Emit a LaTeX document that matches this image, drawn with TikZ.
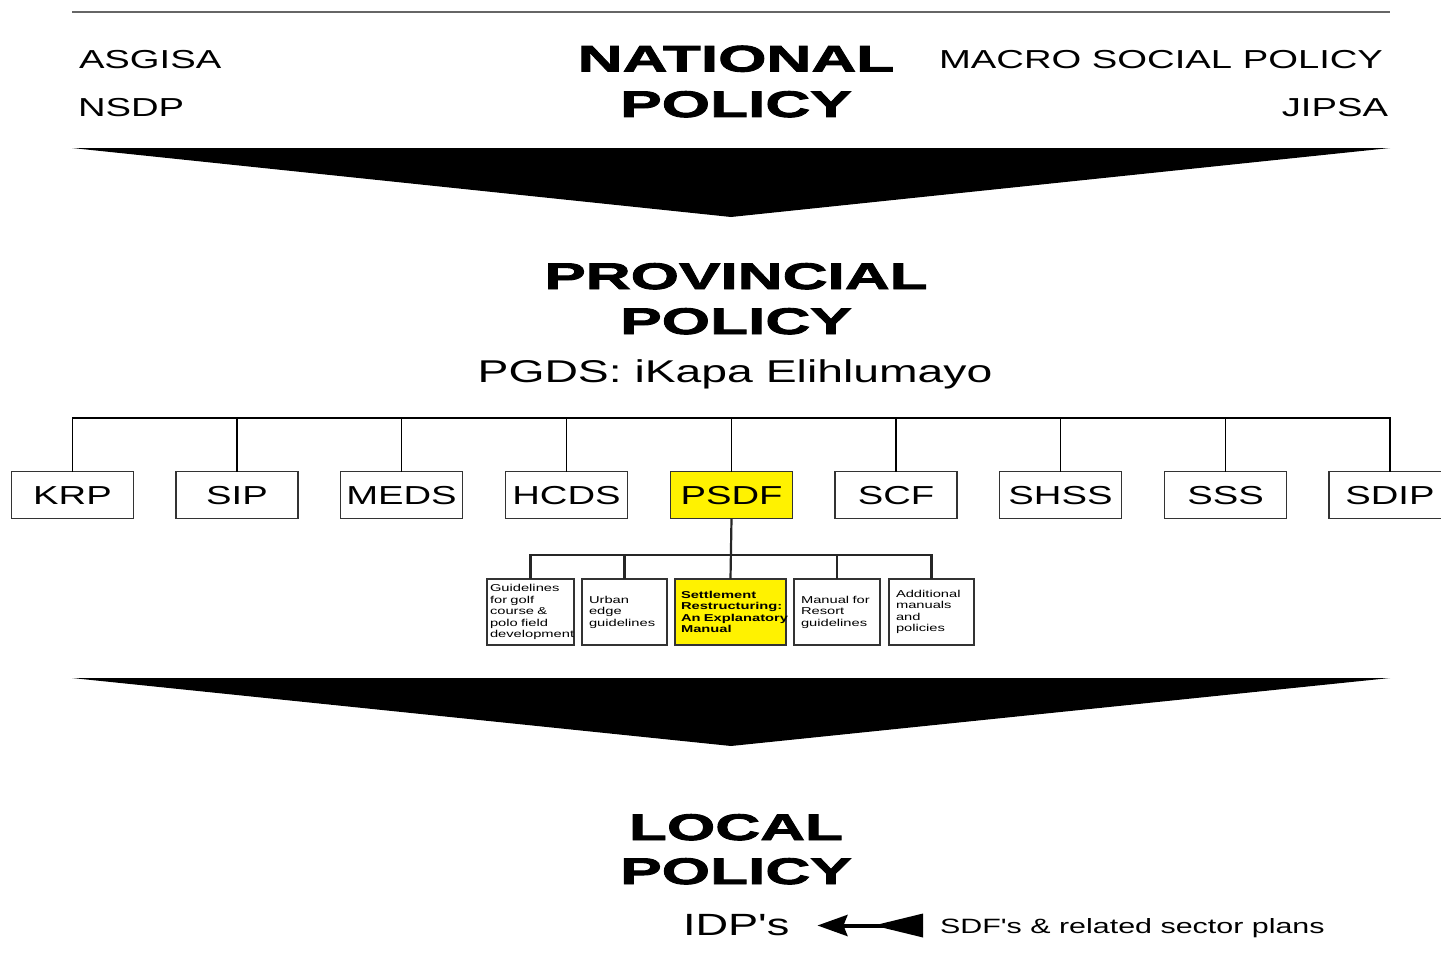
\documentclass[tikz,border=0pt]{standalone}
\usepackage{fontspec}
\setmainfont{Liberation Sans}
\newfontfamily\rf[FakeStretch=1.47]{Liberation Sans}
\newfontfamily\hf[FakeStretch=1.68,FakeBold=2.5]{Liberation Sans}
\usetikzlibrary{arrows.meta,calc}
\begin{document}
\begin{tikzpicture}[x=1pt,y=-1pt,
  every node/.style={inner sep=0pt, outer sep=0pt},
  side/.style={font=\rf\fontsize{26}{26}\selectfont},
  head/.style={font=\hf\bfseries\fontsize{37}{37}\selectfont, anchor=base},
  bigtxt/.style={font=\rf\fontsize{31.5}{31.5}\selectfont},
  pbox/.style={draw=black!80, line width=1.5pt, minimum width=122pt, minimum height=47pt,
    text height=18.5pt, text depth=0pt, font=\rf\fontsize{26}{26}\selectfont, fill=white},
  sbox/.style={draw=black!80, line width=1.5pt, minimum height=66pt, anchor=north,
    align=left, font=\rf\fontsize{10}{11.5}\selectfont, inner xsep=7pt},
  bus/.style={line width=1.5pt, black},
  sbusline/.style={line width=2.2pt, black!85},
  bigarrow/.style={fill=black},
]
\useasboundingbox (0,0) rectangle (1441,966);

% top rule
\draw[black!60, line width=2pt] (72,12) -- (1390,12);

% national level
\node[side, anchor=base west] (asgisa) at (79,68.5) {ASGISA};
\node[side, anchor=base west] (nsdp) at (78,116) {NSDP};
\node[side, anchor=base east] (macro) at (1383,68.5) {MACRO SOCIAL POLICY};
\node[side, anchor=base east] (jipsa) at (1388,116) {JIPSA};
\node[head] (nat1) at (736,71.5) {NATIONAL};
\node[head] (nat2) at (736,117) {POLICY};

\fill[bigarrow] (72,148) -- (1390,148) -- (731,217) -- cycle;

% provincial level
\node[head] (prov1) at (736,289) {PROVINCIAL};
\node[head] (prov2) at (736,334) {POLICY};
\node[bigtxt, anchor=base] (pgds) at (735,382) {PGDS: iKapa Elihlumayo};

\coordinate (busy) at (731,418);
\node[pbox] (krp)  at (72.5,495)  {KRP};
\node[pbox] (sip)  at (237,495)  {SIP};
\node[pbox] (meds) at (401.5,495) {MEDS};
\node[pbox] (hcds) at (566.5,495) {HCDS};
\node[pbox, fill=yellow] (psdf) at (731.5,495) {PSDF};
\node[pbox] (scf)  at (896,495)  {SCF};
\node[pbox] (shss) at (1060.5,495) {SHSS};
\node[pbox] (sss)  at (1225.5,495) {SSS};
\node[pbox] (sdip) at (1390,495) {SDIP};

\draw[bus] (krp.north) -- (krp.north |- busy) -- (sdip.north |- busy) -- (sdip.north);
\foreach \b in {sip,meds,hcds,psdf,scf,shss,sss}
  \draw[bus] (\b.north) -- (\b.north |- busy);

% sub boxes
\coordinate (sbusy) at (731,555);
\node[sbox, inner xsep=3pt, text width=81pt] (s1) at (530.5,579)
  {Guidelines\\for golf\\course \&\\polo field\\\mbox{development}};
\node[sbox, text width=71pt] (s2) at (624.5,579) {Urban\\edge\\guidelines};
\node[sbox, fill=yellow, inner xsep=6pt, text width=99pt, font=\rf\bfseries\fontsize{10}{11.5}\selectfont] (s3) at (730.5,579)
  {Settlement\\\mbox{Restructuring:}\\\mbox{An Explanatory}\\Manual};
\node[sbox, text width=72pt] (s4) at (837,579) {Manual for\\Resort\\guidelines};
\node[sbox, text width=71pt] (s5) at (931.5,579) {Additional\\manuals\\and\\policies};

\draw[sbusline] (psdf.south) -- (s3.north);
\draw[sbusline] (s1.north) -- (s1.north |- sbusy) -- (s5.north |- sbusy) -- (s5.north);
\foreach \b in {s2,s4}
  \draw[sbusline] (\b.north) -- (\b.north |- sbusy);

\fill[bigarrow] (72,678) -- (1390,678) -- (731,746) -- cycle;

% local level
\node[head] (loc1) at (736,840) {LOCAL};
\node[head] (loc2) at (736,884) {POLICY};
\node[font=\rf\fontsize{30.7}{30.7}\selectfont, anchor=base west] (idp) at (683,935) {IDP's};
\node[font=\rf\fontsize{20.7}{20.7}\selectfont, anchor=base west] (sdf) at (940,933) {SDF's \& related sector plans};

\coordinate (atip) at ($(idp.base east)+(28,-9.5)$);
\coordinate (atail) at ($(sdf.base west)+(-17,-7.5)$);
\draw[line width=4pt, -{Stealth[length=30pt,width=21pt,inset=4pt]}] (atail) -- (atip);
\fill (atail) ++(0,-12) -- ++(0,24) -- ++(-43,-10.5) -- ++(0,-3) -- cycle;
\end{tikzpicture}
\end{document}
